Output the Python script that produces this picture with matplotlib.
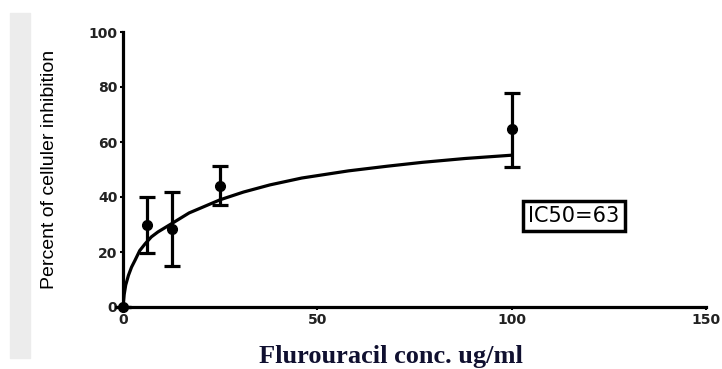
import matplotlib
matplotlib.use("Agg")
import matplotlib.pyplot as plt
from matplotlib.patches import Rectangle

# measured points (mean +/- error)
conc = [0, 6.25, 12.5, 25, 100]
inhib = [0, 29.8, 28.5, 44.0, 64.7]
err_lo = [0, 10.0, 13.5, 7.0, 13.7]
err_hi = [0, 10.2, 13.3, 7.3, 13.3]

# fitted curve
fit_x = [0, 0.3, 0.7, 1.4, 2.2, 3.1, 4.3, 5.7, 7.3, 9.0, 12.5, 17, 25, 31, 37.8, 46, 58, 68, 77, 88, 100]
fit_y = [0, 4.5, 8.0, 11.5, 14.5, 17.0, 20.5, 23.0, 25.5, 27.3, 30.3, 34.2, 39.0, 41.8, 44.4, 46.9, 49.5, 51.2, 52.6, 54.0, 55.2]

xticks = [0, 50, 100, 150]
yticks = [0, 20, 40, 60, 80, 100]

fig = plt.figure(figsize=(7.22, 3.69), dpi=100)

# light gray strip at the left edge
fig.patches.append(Rectangle((10 / 722, 1 - 358 / 369), 20 / 722, 345 / 369,
                             transform=fig.transFigure, color="#ececec", zorder=0))

ax = fig.add_axes([123 / 722, 1 - 307 / 369, 583 / 722, 275 / 369])

ax.plot(fit_x, fit_y, color="black", lw=2.3, solid_capstyle="round", zorder=2)
ax.errorbar(conc, inhib, yerr=[err_lo, err_hi], fmt="o", color="black",
            ms=7, elinewidth=2.3, capsize=6, capthick=2.3, zorder=3, clip_on=False)

ax.set_xlim(0, 150)
ax.set_ylim(0, 100)
ax.set_xticks(xticks)
ax.set_yticks(yticks)
for s in ["top", "right"]:
    ax.spines[s].set_visible(False)
for s in ["left", "bottom"]:
    ax.spines[s].set_linewidth(2.3)
ax.tick_params(length=2, width=1.5, pad=2)
for lab in ax.get_xticklabels() + ax.get_yticklabels():
    lab.set_fontfamily("DejaVu Sans")
    lab.set_fontweight("bold")
    lab.set_fontsize(10)
    lab.set_color("#222222")

ax.set_ylabel("Percent of celluler inhibition", fontfamily="Liberation Sans",
              fontsize=14)
ax.yaxis.set_label_coords(-0.111, 0.5)
ax.set_xlabel("Flurouracil conc. ug/ml", fontfamily="Liberation Serif",
              fontweight="bold", fontsize=19, color="#101030")
ax.xaxis.set_label_coords(0.46, -0.14)

ax.text(116, 33, "IC50=63", fontfamily="DejaVu Sans", fontsize=15,
        ha="center", va="center",
        bbox=dict(boxstyle="square,pad=0.25", fc="white", ec="black", lw=2.5))

fig.savefig("out.png", dpi=100)
